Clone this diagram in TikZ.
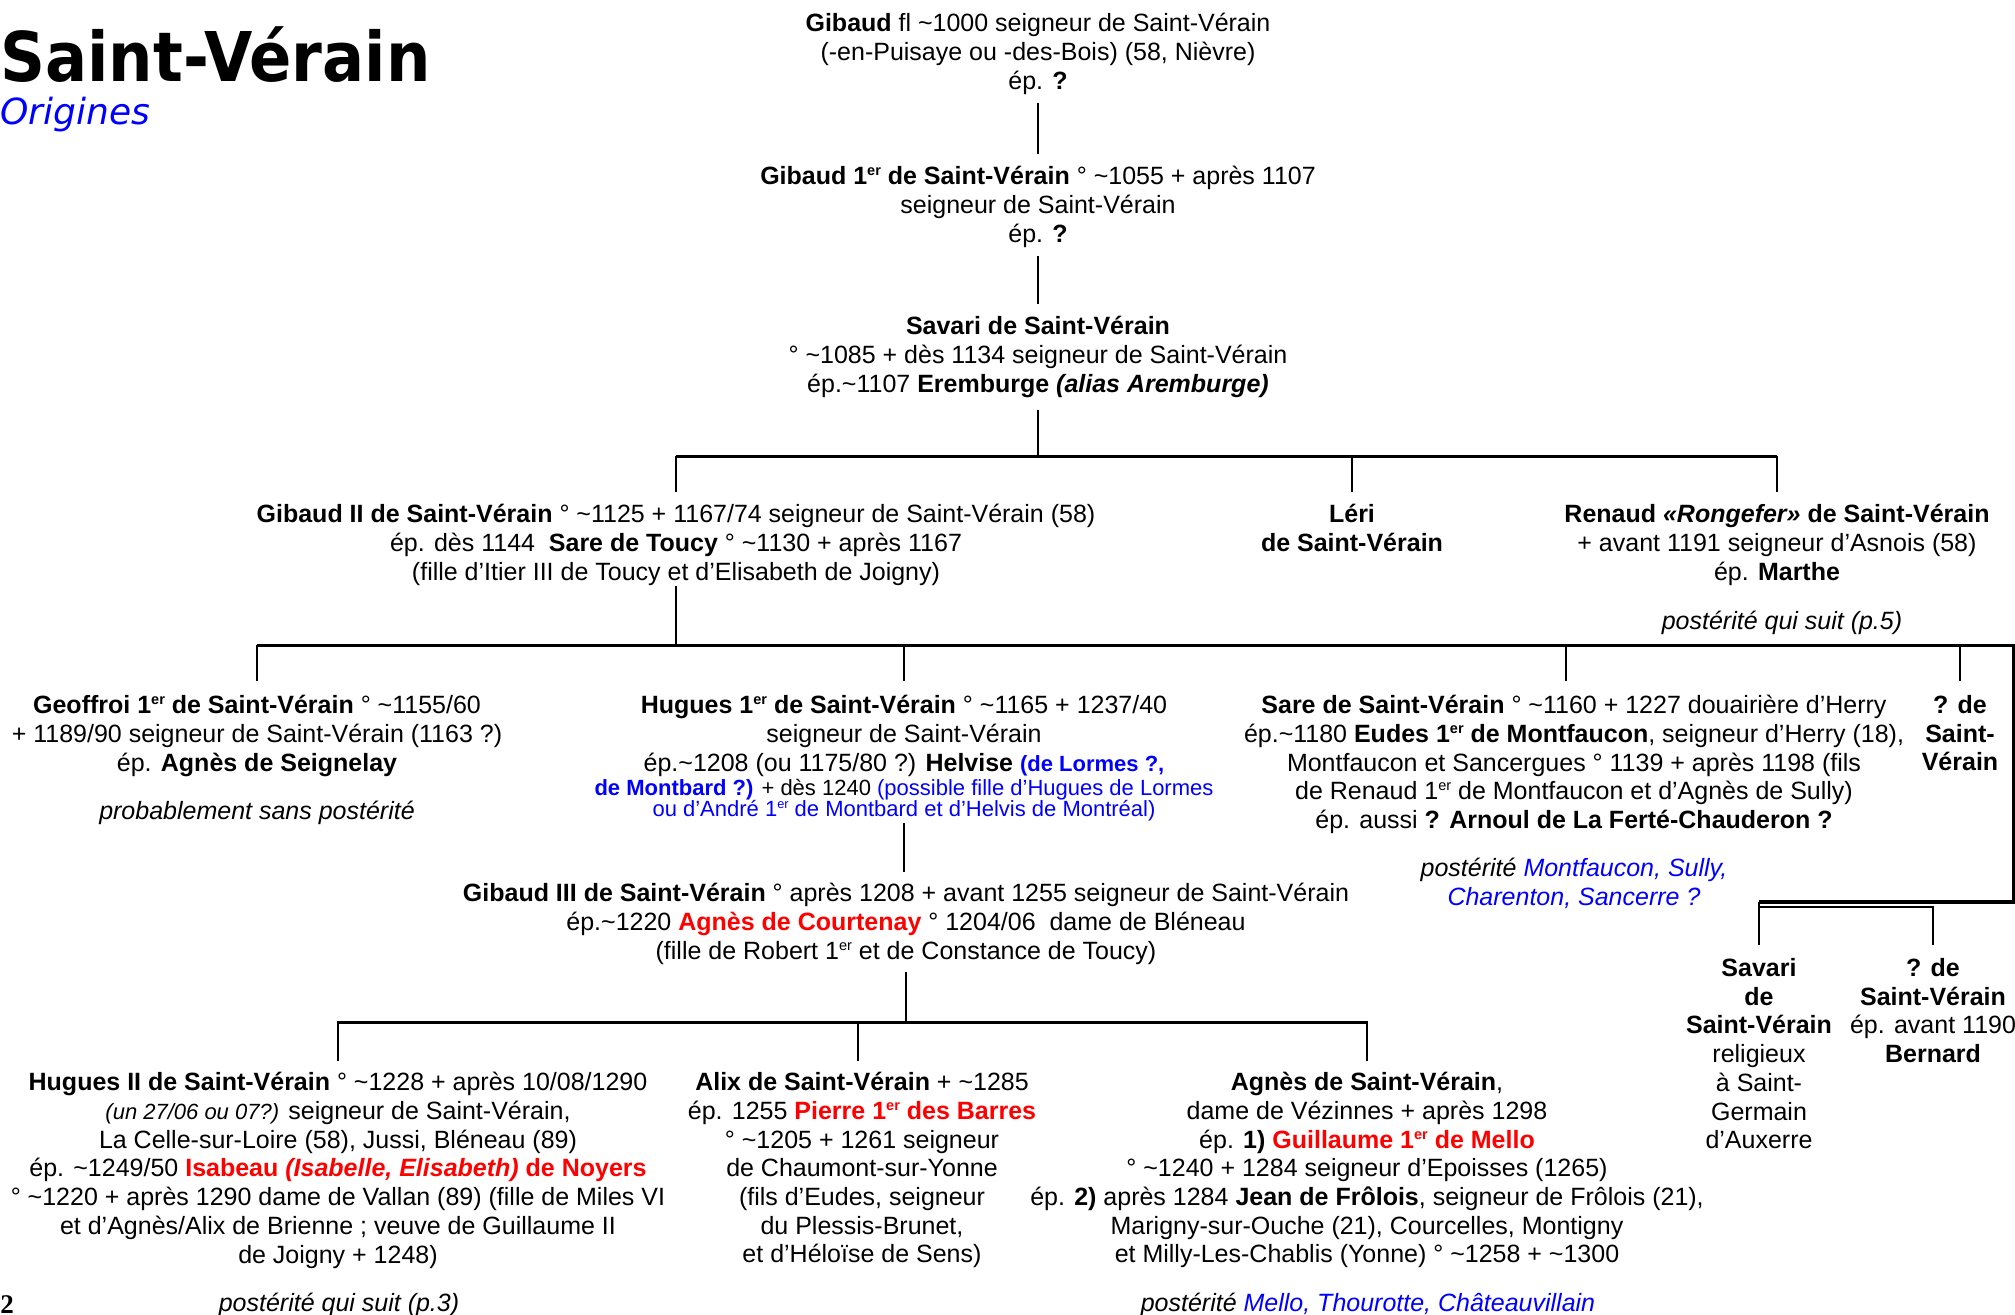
\documentclass[tikz,border=0pt]{standalone}
\usepackage{graphicx}
\usepackage{fontspec}
\setmainfont{Liberation Sans}
\newfontfamily\titlefont[FakeStretch=0.91]{DejaVu Sans}
\newfontfamily\subtitlefont{DejaVu Sans}
\newfontfamily\pagefont{Liberation Serif}
\newcommand\ca{\textasciitilde}
\newcommand\er{\raisebox{0.36em}{\scalebox{0.58}{er}}}
\newcommand\smalltxt{\fontsize{11}{12}\selectfont}
\tikzset{
  person/.style={anchor=north, align=center, inner sep=0pt, font=\fontsize{12.5}{14.35}\selectfont},
  link/.style={line width=1pt},
  bar/.style={line width=1.5pt},
}
\begin{document}
\begin{tikzpicture}[x=0.5pt,y=-0.5pt]
    \useasboundingbox (0,0) rectangle (2015,1315);
    \node[anchor=base west, inner sep=0pt, font=\titlefont\bfseries\fontsize{34.3}{40}\selectfont] (titre) at (0,82) {Saint-Vérain};
    \node[anchor=base west, inner sep=0pt, text=blue, font=\subtitlefont\itshape\fontsize{18}{22}\selectfont] (origines) at (0,125) {Origines};
    \node[anchor=base west, inner sep=0pt, font=\pagefont\bfseries\fontsize{13.5}{16}\selectfont] (page) at (0,1313) {2};

    \node[person] (g0) at (1038,13) {\textbf{Gibaud} fl \ca1000 seigneur de Saint-Vérain\\(-en-Puisaye ou -des-Bois) (58, Nièvre)\\ép. \textbf{?}};
    \node[person] (g1) at (1038,166) {\textbf{Gibaud 1\er{} de Saint-Vérain} ° \ca1055 + après 1107\\seigneur de Saint-Vérain\\ép. \textbf{?}};
    \node[person] (sav) at (1038,316) {\textbf{Savari de Saint-Vérain}\\° \ca1085 + dès 1134 seigneur de Saint-Vérain\\ép.\ca1107 \textbf{Eremburge \textit{(alias Aremburge)}}};

    \node[person] (g2) at (676,504) {\textbf{Gibaud II de Saint-Vérain} ° \ca1125 + 1167/74 seigneur de Saint-Vérain (58)\\ép. dès 1144\ \ \textbf{Sare de Toucy} ° \ca1130 + après 1167\\(fille d’Itier III de Toucy et d’Elisabeth de Joigny)};
    \node[person] (leri) at (1352,504) {\textbf{Léri}\\\textbf{de Saint-Vérain}};
    \node[person] (ren) at (1777,504) {\textbf{Renaud \textit{«Rongefer»} de Saint-Vérain}\\+ avant 1191 seigneur d’Asnois (58)\\ép. \textbf{Marthe}};
    \node[person] (renp) at (1782,611) {\textit{postérité qui suit (p.5)}};

    \node[person] (geo) at (257,695) {\textbf{Geoffroi 1\er{} de Saint-Vérain} ° \ca1155/60\\+ 1189/90 seigneur de Saint-Vérain (1163 ?)\\ép. \textbf{Agnès de Seignelay}};
    \node[person] (geop) at (257,801) {\textit{probablement sans postérité}};
    \node[person] (hu1) at (904,695) {\textbf{Hugues 1\er{} de Saint-Vérain} ° \ca1165 + 1237/40\\seigneur de Saint-Vérain\\ép.\ca1208 (ou 1175/80 ?) \textbf{Helvise} {\smalltxt\color{blue}\textbf{(de Lormes ?,}}\\[-2.35pt]
      {\smalltxt\textcolor{blue}{\textbf{de Montbard ?)}} + dès 1240 \textcolor{blue}{(possible fille d’Hugues de Lormes}}\\[-3.85pt]
      {\smalltxt\color{blue}ou d’André 1\er{} de Montbard et d’Helvis de Montréal)}};
    \node[person] (sare) at (1574,695) {\textbf{Sare de Saint-Vérain} ° \ca1160 + 1227 douairière d’Herry\\ép.\ca1180 \textbf{Eudes 1\er{} de Montfaucon}, seigneur d’Herry (18),\\Montfaucon et Sancergues ° 1139 + après 1198 (fils\\de Renaud 1\er{} de Montfaucon et d’Agnès de Sully)\\ép. aussi \textbf{? Arnoul de La Ferté-Chauderon ?}};
    \node[person] (sarep) at (1574,858) {\textit{postérité \textcolor{blue}{Montfaucon, Sully,}}\\\textit{\textcolor{blue}{Charenton, Sancerre ?}}};
    \node[person] (qd1) at (1960,695) {\textbf{? de}\\\textbf{Saint-}\\\textbf{Vérain}};

    \node[person] (g3) at (906,883) {\textbf{Gibaud III de Saint-Vérain} ° après 1208 + avant 1255 seigneur de Saint-Vérain\\ép.\ca1220 \textcolor{red}{\textbf{Agnès de Courtenay}} ° 1204/06\ \ dame de Bléneau\\(fille de Robert 1\er{} et de Constance de Toucy)};
    \node[person] (savl) at (1759,958) {\textbf{Savari}\\\textbf{de}\\\textbf{Saint-Vérain}\\religieux\\à Saint-\\Germain\\d’Auxerre};
    \node[person] (qd2) at (1933,958) {\textbf{? de}\\\textbf{Saint-Vérain}\\ép. avant 1190\\\textbf{Bernard}};

    \node[person] (hu2) at (338,1072) {\textbf{Hugues II de Saint-Vérain} ° \ca1228 + après 10/08/1290\\{\smalltxt\itshape (un 27/06 ou 07?)} seigneur de Saint-Vérain,\\La Celle-sur-Loire (58), Jussi, Bléneau (89)\\ép. \ca1249/50 \textcolor{red}{\textbf{Isabeau \textit{(Isabelle, Elisabeth)} de Noyers}}\\° \ca1220 + après 1290 dame de Vallan (89) (fille de Miles VI\\et d’Agnès/Alix de Brienne ; veuve de Guillaume II\\de Joigny + 1248)};
    \node[person] (hu2p) at (339,1293) {\textit{postérité qui suit (p.3)}};
    \node[person] (alix) at (862,1072) {\textbf{Alix de Saint-Vérain} + \ca1285\\ép. 1255 \textcolor{red}{\textbf{Pierre 1\er{} des Barres}}\\° \ca1205 + 1261 seigneur\\de Chaumont-sur-Yonne\\(fils d’Eudes, seigneur\\du Plessis-Brunet,\\et d’Héloïse de Sens)};
    \node[person] (agn) at (1367,1072) {\textbf{Agnès de Saint-Vérain},\\dame de Vézinnes + après 1298\\ép. \textbf{1)} \textcolor{red}{\textbf{Guillaume 1\er{} de Mello}}\\° \ca1240 + 1284 seigneur d’Epoisses (1265)\\ép. \textbf{2)} après 1284 \textbf{Jean de Frôlois}, seigneur de Frôlois (21),\\Marigny-sur-Ouche (21), Courcelles, Montigny\\et Milly-Les-Chablis (Yonne) ° \ca1258 + \ca1300};
    \node[person] (agnp) at (1368,1293) {\textit{postérité \textcolor{blue}{Mello, Thourotte, Châteauvillain}}};

    \coordinate (bar1) at (1038,457);
    \coordinate (bar2) at (676,646);
    \coordinate (b2end) at (2013,646);
    \coordinate (b4) at (1759,902);
    \coordinate (bar3) at (906,1022);

    \draw[link] ([yshift=-4pt]g0.south) -- ([yshift=6pt]g1.north);
    \draw[link] ([yshift=-4pt]g1.south) -- ([yshift=6pt]sav.north);
    \draw[link] ([yshift=-6pt]sav.south) -- (bar1);
    \draw[bar] (g2.north |- bar1) -- (ren.north |- bar1);
    \foreach \c in {g2,leri,ren}
        \draw[link] (bar1) -| ([yshift=6pt]\c.north);

    \draw[link] (g2.south) -- (bar2);
    \draw[bar] (geo.north |- bar2) -- (b2end) |- (b4);
    \foreach \c in {geo,hu1,qd1}
        \draw[link] (bar2) -| ([yshift=7pt]\c.north);
    \draw[link] (bar2) -| ([xshift=-4pt,yshift=7pt]sare.north);
    \draw[link] (b4) -- ([yshift=6.5pt]savl.north);
    \draw[link] ([yshift=-2.5pt]b4) -| ([yshift=6.5pt]qd2.north);

    \draw[link] ([yshift=-1pt]hu1.south) -- ([yshift=5.5pt]hu1.south |- g3.north);
    \draw[link] ([yshift=-3.5pt]g3.south) -- (bar3);
    \draw[bar] (hu2.north |- bar3) -- (agn.north |- bar3);
    \foreach \c in {hu2,agn}
        \draw[link] (bar3) -| ([yshift=5.5pt]\c.north);
    \draw[link] (bar3) -| ([xshift=-2pt,yshift=5.5pt]alix.north);
\end{tikzpicture}
\end{document}
